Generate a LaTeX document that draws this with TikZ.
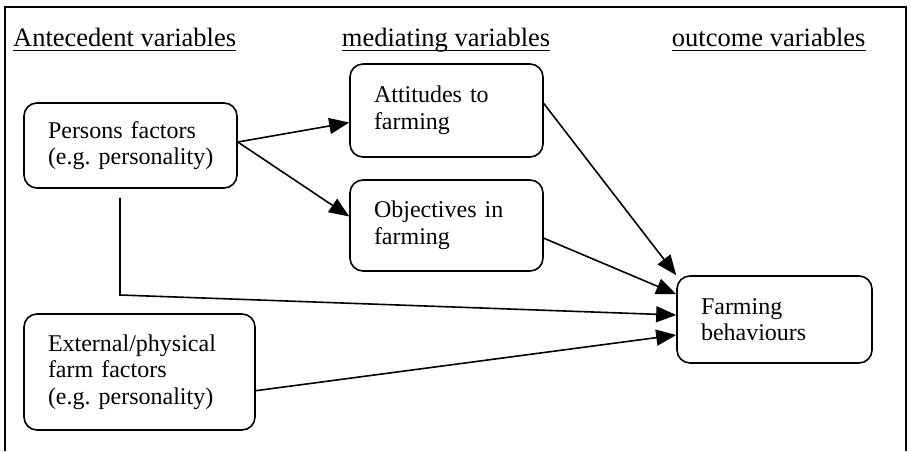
\documentclass[tikz,border=0pt]{standalone}
\usepackage{fontspec}
\setmainfont{Liberation Serif}
\usetikzlibrary{arrows.meta,calc}
\frenchspacing
\begin{document}
\begin{tikzpicture}[x=1pt,y=-1pt,
  factor/.style={draw, line width=1.6pt, rounded corners=13pt, align=left,
    inner xsep=24pt, inner ysep=0pt, font=\fontsize{24}{26.5}\selectfont},
  heading/.style={anchor=base west, inner sep=0pt, font=\fontsize{26.5}{30}\selectfont},
  headrule/.style={line width=1.4pt},
  frame/.style={line width=1.6pt},
  link/.style={line width=1.6pt, -{Triangle[length=20pt,width=16pt]}}
]
\useasboundingbox (0,0) rectangle (911,451);

% outer frame, open at the bottom
\draw[frame] (5,451) -- (5,7) -- (906,7) -- (906,451);

% column headings
\node[heading] (hant) at (13,46.7) {Antecedent variables};
\node[heading] (hmed) at (341.7,46.7) {mediating variables};
\node[heading] (hout) at (671.7,46.7) {outcome variables};
\foreach \h in {hant,hmed,hout}
  \draw[headrule] ($(\h.base west)+(0,3.5)$) -- ($(\h.base east)+(0,3.5)$);

% factor boxes (each line kept whole)
\node[factor, text width=165pt, minimum height=85pt]  (pers) at (130.5,145.5)
  {\mbox{Persons factors}\\\mbox{(e.g. personality)}};
\node[factor, text width=145pt, minimum height=93pt]  (att)  at (446.5,110.5)
  {\mbox{Attitudes to}\\\mbox{farming}};
\node[factor, text width=145pt, minimum height=91pt]  (obj)  at (446.5,225.5)
  {\mbox{Objectives in}\\\mbox{farming}};
\node[factor, text width=183pt, minimum height=116pt] (ext)  at (139.5,372)
  {\mbox{External/physical}\\\mbox{farm factors}\\\mbox{(e.g. personality)}};
\node[factor, text width=147pt, minimum height=87pt]  (fb)   at (774.5,319.5)
  {\mbox{Farming}\\\mbox{behaviours}};

% connectors
\draw[link] ([yshift=3.5pt]pers.east) -- ([yshift=-12pt]att.west);
\draw[link] ([yshift=3.5pt]pers.east) -- ([yshift=9pt]obj.west);
\draw[link] ([yshift=7pt]att.east) -- (fb.north west);
\draw[link] ([yshift=-12.7pt]obj.east) -- ([yshift=-19pt]fb.north west);
\coordinate (bend) at (120,295);
\draw[link] ([xshift=-10.5pt,yshift=-9pt]pers.south) -- (bend) -- ([yshift=4.5pt]fb.west);
\draw[link] ([yshift=-18.7pt]ext.east) -- ([yshift=-15.5pt]fb.west);
\end{tikzpicture}
\end{document}
